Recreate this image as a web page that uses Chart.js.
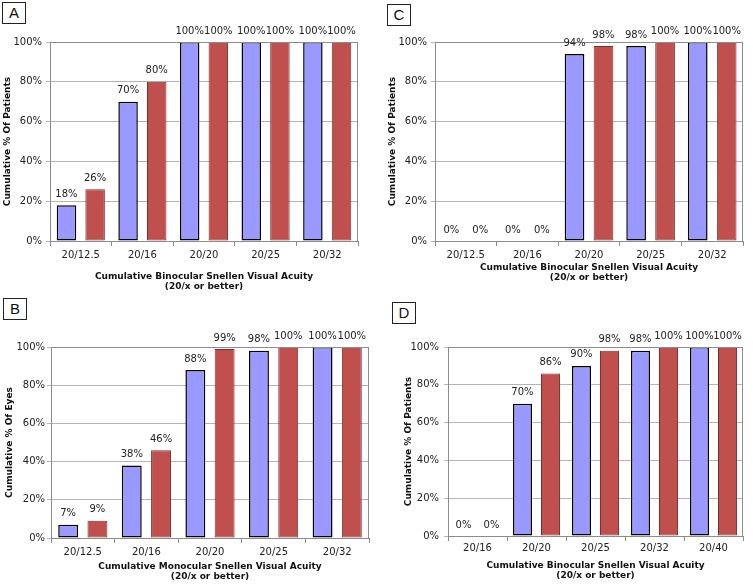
<!DOCTYPE html>
<html>
<head>
<meta charset="utf-8">
<script src="https://cdn.jsdelivr.net/npm/chart.js@4"></script>
<style>
  body { margin: 0; background: #fff; }
  #page { position: relative; width: 753px; height: 585px; overflow: hidden; }
  .box { position: absolute; }
  .tag { position: absolute; width: 22px; height: 20px; border: 1.5px solid #222;
         font: 15px "Liberation Sans", Arial, sans-serif; color: #111;
         text-align: center; line-height: 20px; background: #fff; }
</style>
</head>
<body>
<div id="page">
  <div class="box" style="left:0;top:0;width:376px;height:292px"><canvas id="chartA"></canvas></div>
  <div class="box" style="left:376px;top:0;width:377px;height:292px"><canvas id="chartC"></canvas></div>
  <div class="box" style="left:0;top:292px;width:376px;height:293px"><canvas id="chartB"></canvas></div>
  <div class="box" style="left:376px;top:292px;width:377px;height:293px"><canvas id="chartD"></canvas></div>
  <div class="tag" style="left:2px;top:2px">A</div>
  <div class="tag" style="left:387px;top:4px">C</div>
  <div class="tag" style="left:3px;top:298px">B</div>
  <div class="tag" style="left:392px;top:302px">D</div>
</div>
<script>
const acuityABC = ['20/12.5', '20/16', '20/20', '20/25', '20/32'];
const acuityD = ['20/16', '20/20', '20/25', '20/32', '20/40'];

const aBlue = [18, 70, 100, 100, 100];
const aRed = [26, 80, 100, 100, 100];
const bBlue = [7, 38, 88, 98, 100];
const bRed = [9, 46, 99, 100, 100];
const cBlue = [0, 0, 94, 98, 100];
const cRed = [0, 0, 98, 100, 100];
const dBlue = [0, 70, 90, 98, 100];
const dRed = [0, 86, 98, 100, 100];

const yTicks = [0, 20, 40, 60, 80, 100];

const FONT = '"DejaVu Sans", Verdana, sans-serif';

// labels over the bars + grey frame round the plot
const extras = {
  id: 'extras',
  afterDatasetsDraw(chart) {
    const ctx = chart.ctx;
    const a = chart.chartArea;
    ctx.save();
    ctx.strokeStyle = '#8c8c8c';
    ctx.lineWidth = 1;
    ctx.strokeRect(a.left + 0.5, a.top + 0.5, a.right - a.left - 1, a.bottom - a.top);
    ctx.font = '10px ' + FONT;
    ctx.fillStyle = '#222';
    ctx.textAlign = 'center';
    ctx.textBaseline = 'bottom';
    chart.data.datasets.forEach((ds, i) => {
      chart.getDatasetMeta(i).data.forEach((bar, j) => {
        ctx.fillText(ds.data[j] + '%', bar.x, bar.y - 6);
      });
    });
    ctx.restore();
  }
};

function makeChart(id, labels, blue, red, yTitle, xTitle, g) {
  new Chart(document.getElementById(id), {
    type: 'bar',
    data: {
      labels: labels,
      datasets: [{
        data: blue,
        backgroundColor: '#9999ff',
        borderColor: '#000',
        borderWidth: 1.5,
        borderSkipped: false
      }, {
        data: red,
        backgroundColor: '#c0504d',
        borderColor: '#7a2f2d',
        borderWidth: 1,
        borderSkipped: false
      }]
    },
    options: {
      responsive: true,
      maintainAspectRatio: false,
      animation: false,
      categoryPercentage: g.cat,
      barPercentage: 0.68,
      layout: { padding: { top: g.top, right: g.right, left: 0, bottom: 0 } },
      plugins: { legend: { display: false }, tooltip: { enabled: false } },
      scales: {
        x: {
          grid: { offset: true, drawOnChartArea: false, tickLength: 5, color: '#8c8c8c' },
          border: { color: '#8c8c8c' },
          ticks: { padding: g.xPad, color: '#222', font: { family: FONT, size: 10 } },
          title: {
            display: true, text: xTitle, color: '#111',
            font: { family: FONT, size: 9, weight: 'bold', lineHeight: 1.1 },
            padding: { top: 0, bottom: g.xTitleBottom }
          },
          afterFit(s) { s.height = g.xHeight; }
        },
        y: {
          min: 0, max: 100,
          afterBuildTicks(s) { s.ticks = yTicks.map(v => ({ value: v })); },
          grid: { color: '#b4b4b4', tickLength: 4 },
          border: { color: '#8c8c8c' },
          ticks: { padding: g.yPad, color: '#222', font: { family: FONT, size: 10 },
                   callback: v => v + '%' },
          title: {
            display: true, text: yTitle, color: '#111',
            font: { family: FONT, size: 9, weight: 'bold' },
            padding: { top: g.yTitleLeft, bottom: 0 }
          },
          afterFit(s) { s.width = g.yWidth; }
        }
      }
    },
    plugins: [extras]
  });
}

const binocular = ['Cumulative Binocular Snellen Visual Acuity', '(20/x or better)'];
const monocular = ['Cumulative Monocular Snellen Visual Acuity', '(20/x or better)'];

makeChart('chartA', acuityABC, aBlue, aRed, 'Cumulative % Of Patients', binocular,
  { top: 42, right: 18, yWidth: 50, xHeight: 51, cat: 0.93, xPad: 3, yPad: 4, xTitleBottom: 0, yTitleLeft: 2 });
makeChart('chartC', acuityABC, cBlue, cRed, 'Cumulative % Of Patients', binocular,
  { top: 42, right: 10, yWidth: 59, xHeight: 51, cat: 0.94, xPad: 3, yPad: 4, xTitleBottom: 9, yTitleLeft: 11 });
makeChart('chartB', acuityABC, bBlue, bRed, 'Cumulative % Of Eyes', monocular,
  { top: 55, right: 7, yWidth: 51, xHeight: 47, cat: 0.92, xPad: 3, yPad: 2, xTitleBottom: 3, yTitleLeft: 4 });
makeChart('chartD', acuityD, dBlue, dRed, 'Cumulative % Of Patients', binocular,
  { top: 55, right: 10, yWidth: 72, xHeight: 49, cat: 0.95, xPad: 1, yPad: 5, xTitleBottom: 4, yTitleLeft: 27 });
</script>
</body>
</html>
